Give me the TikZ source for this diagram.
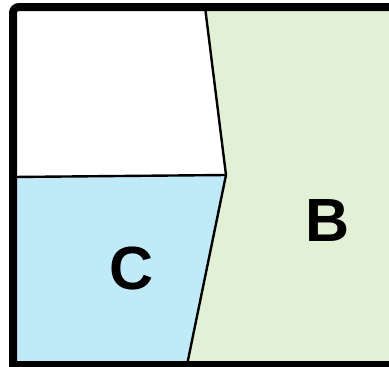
\documentclass[tikz,border=0pt]{standalone}
\usepackage{fontspec}
\setmainfont{Liberation Sans}
\definecolor{regB}{RGB}{226,240,214}
\definecolor{regC}{RGB}{193,234,249}
\tikzset{
  divider/.style={line width=2.4pt, line join=round},
  frame/.style={line width=8pt},
  lbl/.style={font=\fontsize{61}{61}\selectfont\bfseries, inner sep=0pt}
}
\begin{document}
\begin{tikzpicture}[x=1pt,y=-1pt]
\useasboundingbox (0,0) rectangle (389,367);
\clip (0,0) rectangle (389,367);
\coordinate (tl) at (13,7);
\coordinate (tr) at (400,7);
\coordinate (br) at (400,365);
\coordinate (bl) at (13,365);
\coordinate (top) at (205,7);
\coordinate (mid) at (226,175);
\coordinate (left) at (13,177);
\coordinate (bot) at (187,365);
\fill[regB] (top) -- (mid) -- (bot) -- (br) -- (tr) -- cycle;
\fill[regC] (left) -- (mid) -- (bot) -- (bl) -- cycle;
\draw[divider] (top) -- (mid) -- (bot);
\draw[divider] (left) -- (mid);
\draw[frame] (tr) [rounded corners=6pt] -- (tl) [sharp corners] -- (bl) -- (br);
\node[lbl] (B) at (328,221) {B};
\node[lbl] (C) at (132,268) {C};
\end{tikzpicture}
\end{document}
